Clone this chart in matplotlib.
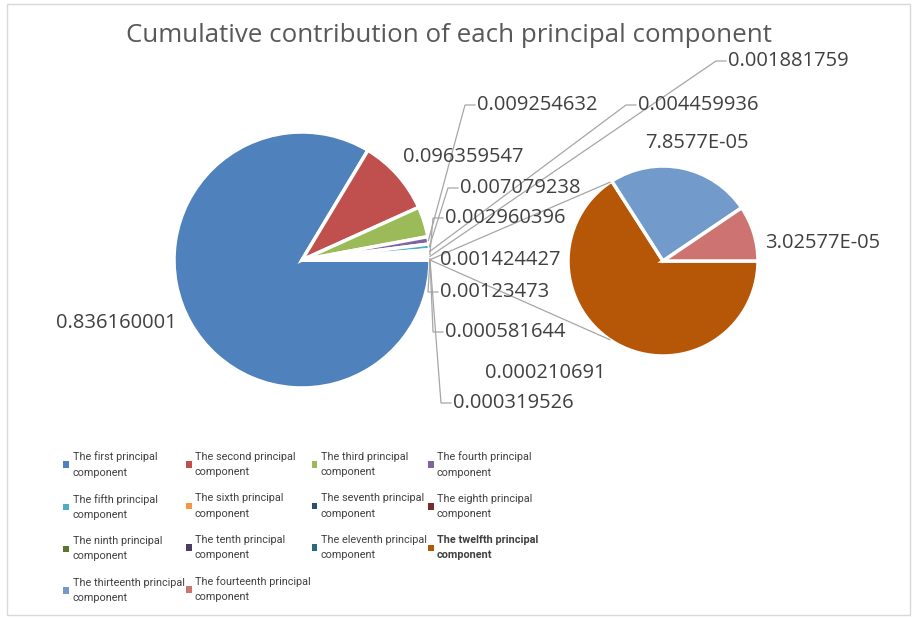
import numpy as np
import matplotlib.pyplot as plt
from matplotlib.patches import Rectangle, Patch

plt.rcParams['font.family'] = ['Open Sans', 'DejaVu Sans']

W, H = 914, 618

# data
names = ["first", "second", "third", "fourth", "fifth", "sixth", "seventh",
         "eighth", "ninth", "tenth", "eleventh", "twelfth", "thirteenth",
         "fourteenth"]
legend_labels = ["The %s principal\ncomponent" % n for n in names]

main_values = [0.836160001, 0.096359547, 0.038284, 0.009254632, 0.007079238,
               0.004459936, 0.002960396, 0.001881759, 0.001424427,
               0.00123473, 0.000581644]
second_values = [0.000210691, 7.8577e-05, 3.02577e-05]
other_value = sum(second_values)

colors = ["#4F81BD", "#C0504D", "#9BBB59", "#8064A2", "#4BACC6", "#F79646",
          "#2C4D75", "#772C2A", "#5F7530", "#4D3B62", "#276A7C", "#B65708",
          "#729ACA", "#CD7371"]

# label layout in pixels from top-left: (x, y, ha); None = no label
main_label_pos = [(116, 323, "center"), (463, 157, "center"), None,
                  (477, 105, "left"), (460, 188, "left"), (638, 105, "left"),
                  (445, 218, "left"), (728, 61, "left"), (440, 260, "left"),
                  (440, 292, "left"), (445, 332, "left"), (453, 403, "left")]
second_label_pos = [(545, 373, "center"), (697, 143, "center"),
                    (765, 243, "left")]


def P(px, py):
    return px, H - py


def fmt(v):
    if v < 1e-4:
        m, e = ("%.5E" % v).split("E")
        m = m.rstrip("0").rstrip(".")
        return m + "E" + e
    return ("%.9f" % v).rstrip("0")


fig = plt.figure(figsize=(W / 100, H / 100), dpi=100)
ax = fig.add_axes([0, 0, 1, 1])

wp = dict(edgecolor="white", linewidth=2.5)
main_wedges, _ = ax.pie(main_values + [other_value],
                        colors=colors[:11] + ["white"],
                        center=P(302, 260), radius=128, startangle=0,
                        counterclock=False, wedgeprops=wp)
sec_wedges, _ = ax.pie(second_values, colors=colors[11:],
                       center=P(663, 261), radius=95, startangle=0,
                       counterclock=False, wedgeprops=wp)

line_color = "#A6A6A6"
text_color = "#404040"


def edge_point(w):
    mid = np.deg2rad((w.theta1 + w.theta2) / 2)
    return w.center[0] + w.r * np.cos(mid), w.center[1] + w.r * np.sin(mid)


all_values = main_values + [other_value]
for w, v, pos in zip(main_wedges, all_values, main_label_pos):
    if pos is None:
        continue
    lx, ly = P(pos[0], pos[1])
    ax.text(lx, ly, fmt(v), ha=pos[2], va="center", fontsize=14.5,
            color=text_color)
    ex, ey = edge_point(w)
    if pos[2] == "left" and np.hypot(lx - ex, ly - ey) > 20:
        ax.plot([ex, lx - 12, lx - 2], [ey, ly, ly], color=line_color,
                lw=0.9, solid_joinstyle="miter")

for w, v, pos in zip(sec_wedges, second_values, second_label_pos):
    lx, ly = P(pos[0], pos[1])
    ax.text(lx, ly, fmt(v), ha=pos[2], va="center", fontsize=14.5,
            color=text_color)

# series lines between the two pies
ow = main_wedges[-1]
sw = sec_wedges[0]
for ang, th in [(124, ow.theta2), (-124, ow.theta1)]:
    sx = ow.center[0] + ow.r * np.cos(np.deg2rad(th))
    sy = ow.center[1] + ow.r * np.sin(np.deg2rad(th))
    tx = sw.center[0] + sw.r * np.cos(np.deg2rad(ang))
    ty = sw.center[1] + sw.r * np.sin(np.deg2rad(ang))
    ax.plot([sx, tx], [sy, ty], color=line_color, lw=0.9)

ax.text(*P(449, 36), "Cumulative contribution of each principal component",
        ha="center", va="center", fontsize=18.6, color="#595959")

# legend, row-major order like the original
handles = [Patch(facecolor=w.get_facecolor(), edgecolor="none")
           for w in list(main_wedges[:11]) + list(sec_wedges)]
order = [0, 4, 8, 12, 1, 5, 9, 13, 2, 6, 10, 3, 7, 11]
leg = ax.legend([handles[i] for i in order], [legend_labels[i] for i in order],
                ncol=4, loc="upper left", bbox_to_anchor=P(58, 446),
                bbox_transform=ax.transData, frameon=False, borderpad=0,
                handlelength=0.55, handleheight=0.55, handletextpad=0.3,
                columnspacing=0.1, labelspacing=1.5,
                prop=dict(family=["Roboto"], size=7.8))
for t in leg.get_texts():
    t.set_color("#404040")
    t.set_linespacing(1.65)
    if t.get_text().startswith("The twelfth"):
        t.set_fontweight("bold")

ax.add_patch(Rectangle(P(7, 615), 903, 611, fill=False, edgecolor="#D9D9D9",
                       lw=1, clip_on=False))

ax.set_xlim(0, W)
ax.set_ylim(0, H)
ax.axis("off")

fig.savefig("out.png", dpi=100)
